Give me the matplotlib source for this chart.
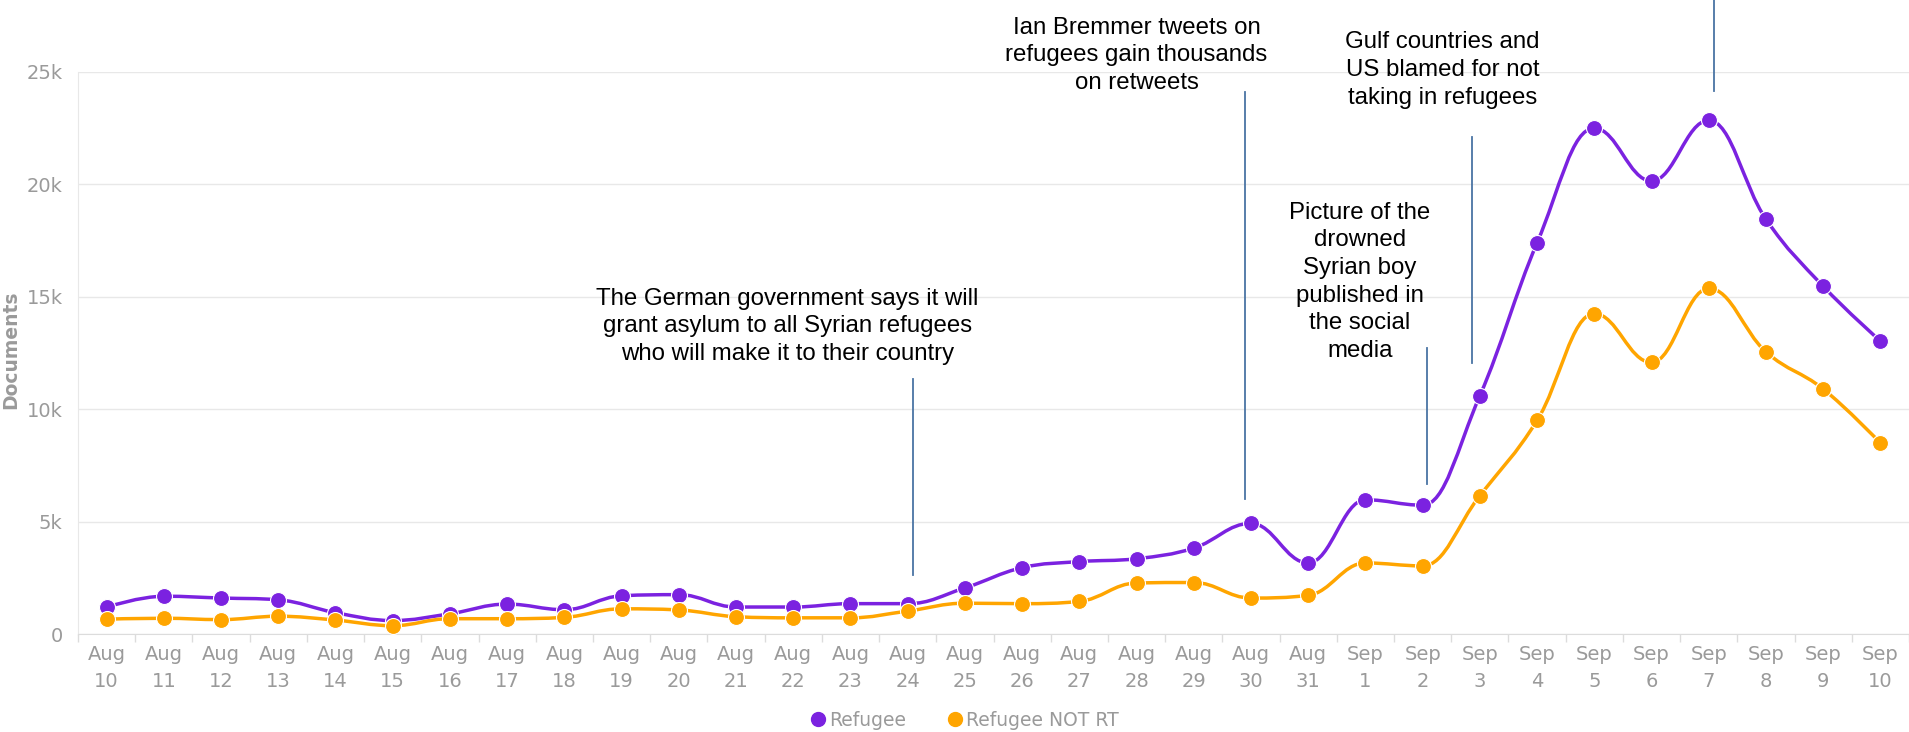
import numpy as np
import matplotlib
matplotlib.use('Agg')
import matplotlib.pyplot as plt
from matplotlib.path import Path
from matplotlib.patches import PathPatch
from matplotlib.lines import Line2D

# daily document counts, Aug 10 - Sep 10
day_labels = ['Aug\n10', 'Aug\n11', 'Aug\n12', 'Aug\n13', 'Aug\n14', 'Aug\n15',
              'Aug\n16', 'Aug\n17', 'Aug\n18', 'Aug\n19', 'Aug\n20', 'Aug\n21',
              'Aug\n22', 'Aug\n23', 'Aug\n24', 'Aug\n25', 'Aug\n26', 'Aug\n27',
              'Aug\n28', 'Aug\n29', 'Aug\n30', 'Aug\n31', 'Sep\n1', 'Sep\n2',
              'Sep\n3', 'Sep\n4', 'Sep\n5', 'Sep\n6', 'Sep\n7', 'Sep\n8',
              'Sep\n9', 'Sep\n10']

refugee = [1200, 1680, 1600, 1520, 950, 600, 900, 1330, 1080, 1700, 1750,
           1200, 1200, 1350, 1350, 2050, 2950, 3220, 3350, 3820, 4920, 3160,
           5970, 5730, 10600, 17400, 22500, 20150, 22850, 18450, 15470, 13030]

refugee_not_rt = [660, 700, 640, 790, 620, 370, 680, 680, 740, 1120, 1070,
                  770, 720, 720, 1020, 1370, 1350, 1450, 2270, 2290, 1600, 1720,
                  3160, 3030, 6160, 9500, 14250, 12080, 15370, 12550, 10900, 8500]

y_ticks = [0, 5000, 10000, 15000, 20000, 25000]
y_tick_labels = ['0', '5k', '10k', '15k', '20k', '25k']

# event notes: (text, text x, text y, line x, line bottom, line top)
events = [
    ('The German government says it will\ngrant asylum to all Syrian refugees\nwho will make it to their country',
     11.9, 13680, 14.1, 2640, 11350),
    ('Ian Bremmer tweets on\nrefugees gain thousands\non retweets',
     18.0, 25750, 19.9, 6000, 24100),
    ('Picture of the\ndrowned\nSyrian boy\npublished in\nthe social\nmedia',
     21.9, 15670, 23.08, 6660, 12740),
    ('Gulf countries and\nUS blamed for not\ntaking in refugees',
     23.35, 25090, 23.87, 12060, 22120),
    ('', 0, 0, 28.1, 24150, 29500),
]

purple = '#7B22E0'
orange = '#FFA500'
grey_text = '#9a9a9a'


def spline_path(xs, ys, smoothing=1.5):
    # same smoothing rule that highcharts uses for its "spline" series
    n = len(xs)
    denom = smoothing + 1
    left = [None] * n
    right = [None] * n
    for i in range(1, n - 1):
        px, py = xs[i], ys[i]
        lx, ly = xs[i - 1], ys[i - 1]
        nx, ny = xs[i + 1], ys[i + 1]
        lcx = (smoothing * px + lx) / denom
        lcy = (smoothing * py + ly) / denom
        rcx = (smoothing * px + nx) / denom
        rcy = (smoothing * py + ny) / denom
        if rcx != lcx:
            corr = ((rcy - lcy) * (rcx - px)) / (rcx - lcx) + py - rcy
            lcy += corr
            rcy += corr
        if lcy > ly and lcy > py:
            lcy = max(ly, py)
            rcy = 2 * py - lcy
        elif lcy < ly and lcy < py:
            lcy = min(ly, py)
            rcy = 2 * py - lcy
        if rcy > ny and rcy > py:
            rcy = max(ny, py)
            lcy = 2 * py - rcy
        elif rcy < ny and rcy < py:
            rcy = min(ny, py)
            lcy = 2 * py - rcy
        left[i] = (lcx, lcy)
        right[i] = (rcx, rcy)
    verts = [(xs[0], ys[0])]
    codes = [Path.MOVETO]
    for i in range(1, n):
        c1 = right[i - 1] if right[i - 1] else (xs[i - 1], ys[i - 1])
        c2 = left[i] if left[i] else (xs[i], ys[i])
        verts += [c1, c2, (xs[i], ys[i])]
        codes += [Path.CURVE4] * 3
    return Path(verts, codes)


fig = plt.figure(figsize=(19.09, 7.32), dpi=100)
ax = fig.add_axes([78 / 1909, 1 - 634 / 732, 1 - 78 / 1909, 562 / 732])

x = np.arange(len(day_labels))
for series, color in [(refugee, purple), (refugee_not_rt, orange)]:
    path = spline_path(list(x), series)
    ax.add_patch(PathPatch(path, facecolor='none', edgecolor=color, lw=2.5,
                           capstyle='round', joinstyle='round', zorder=3))
    ax.plot(x, series, 'o', ms=11.5, mfc=color, mec='white', mew=0.8, zorder=4)

# annotation text and pointer lines
for text, tx, ty, lx, y0, y1 in events:
    if text:
        ax.text(tx, ty, text, ha='center', va='center', fontsize=17.3,
                family='Liberation Sans', color='black', linespacing=1.33,
                zorder=5)
    ax.plot([lx, lx], [y0, y1], color='#4a74a4', lw=1.3, clip_on=False, zorder=2)

ax.set_xlim(-0.5, len(day_labels) - 0.5)
ax.set_ylim(0, 25000)
ax.set_xticks(x)
ax.set_xticklabels(day_labels, fontsize=14, color=grey_text, linespacing=1.5)
ax.set_xticks(np.arange(-0.5, len(day_labels), 1), minor=True)
ax.set_yticks(y_ticks)
ax.set_yticklabels(y_tick_labels, fontsize=14, color=grey_text)
ax.tick_params(axis='x', which='major', length=0, pad=8)
ax.tick_params(axis='x', which='minor', length=6, color='#dcdcdc', width=1)
ax.tick_params(axis='y', length=0, pad=11)

ax.yaxis.grid(True, color='#e8e8e8', lw=1)
ax.set_axisbelow(True)
for side in ['top', 'right']:
    ax.spines[side].set_visible(False)
ax.spines['left'].set_color('#e8e8e8')
ax.spines['bottom'].set_color('#dcdcdc')

fig.text(11 / 1909, 1 - 350 / 732, 'Documents', rotation=90, ha='center',
         va='center', fontsize=13.5, fontweight='bold', color=grey_text)

handles = [Line2D([], [], marker='o', ls='', ms=10, mfc=purple, mec=purple),
           Line2D([], [], marker='o', ls='', ms=10, mfc=orange, mec=orange)]
fig.legend(handles, ['Refugee', 'Refugee NOT RT'], loc='center',
           bbox_to_anchor=(965 / 1909, 1 - 720 / 732), ncol=2, frameon=False,
           fontsize=13.5, labelcolor=grey_text, handletextpad=0.2,
           columnspacing=2.2, handlelength=0.8)

fig.savefig('out.png', dpi=100)
